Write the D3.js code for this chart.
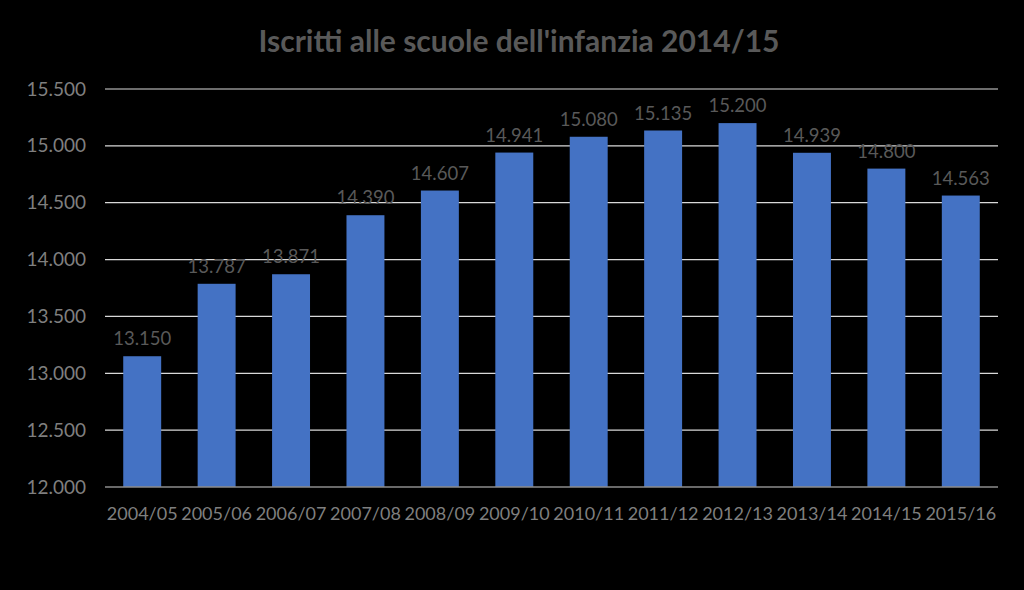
<!DOCTYPE html>
<html><head><meta charset="utf-8">
<script src="https://cdn.jsdelivr.net/npm/d3@7"></script>
<style>body{margin:0;background:#000;} svg{display:block;}</style>
</head><body>
<script>
const categories = ["2004/05","2005/06","2006/07","2007/08","2008/09","2009/10","2010/11","2011/12","2012/13","2013/14","2014/15","2015/16"];
const values = [13150,13787,13871,14390,14607,14941,15080,15135,15200,14939,14800,14563];
const yTicks = [12000,12500,13000,13500,14000,14500,15000,15500];
const title = "Iscritti alle scuole dell'infanzia 2014/15";

const W = 1024, H = 590;
const font = "Lato, 'Open Sans', sans-serif";
const fmt = v => d3.format(",")(v).replace(/,/g, ".");
const svg = d3.select("body").append("svg").attr("width", W).attr("height", H).style("background", "#000");
const x = d3.scaleBand().domain(categories).range([105, 998]).paddingInner(0.49).paddingOuter(0.245);
const y = d3.scaleLinear().domain([12000, 15500]).range([487, 89]);

svg.append("g").selectAll("line").data(yTicks.slice(1)).join("line")
  .attr("x1", 105).attr("x2", 998).attr("y1", d => y(d)).attr("y2", d => y(d))
  .attr("stroke", "#d9d9d9").attr("stroke-width", 1.2);

svg.append("g").selectAll("rect").data(values).join("rect")
  .attr("x", (d, i) => x(categories[i])).attr("width", x.bandwidth())
  .attr("y", d => y(d)).attr("height", d => y(12000) - y(d)).attr("fill", "#4472C4");

svg.append("line").attr("x1", 105).attr("x2", 998).attr("y1", y(12000)).attr("y2", y(12000))
  .attr("stroke", "#8c8c8c").attr("stroke-width", 1.5);

const yAxis = d3.axisLeft(y).tickValues(yTicks).tickFormat(fmt).tickSize(0).tickPadding(19);
const ya = svg.append("g").attr("transform", "translate(105,0)").call(yAxis);
ya.select(".domain").remove();
ya.selectAll("text").attr("fill", "#7f7f7f").style("font-family", font).style("font-size", "19px");

const xAxis = d3.axisBottom(x).tickSize(0).tickPadding(20);
const xa = svg.append("g").attr("transform", `translate(0,${y(12000)})`).call(xAxis);
xa.select(".domain").remove();
xa.selectAll("text").attr("fill", "#7f7f7f").style("font-family", font).style("font-size", "18px");

svg.append("g").selectAll("text").data(values).join("text")
  .attr("x", (d, i) => x(categories[i]) + x.bandwidth() / 2)
  .attr("y", d => y(d) - 11).attr("text-anchor", "middle")
  .attr("fill", "#595959").style("font-family", font).style("font-size", "18.5px")
  .text(d => fmt(d));

svg.append("text").attr("x", 519).attr("y", 52).attr("text-anchor", "middle")
  .attr("fill", "#595959").style("font-family", font).style("font-size", "30px").style("font-weight", "bold")
  .text(title);
</script>
</body></html>
